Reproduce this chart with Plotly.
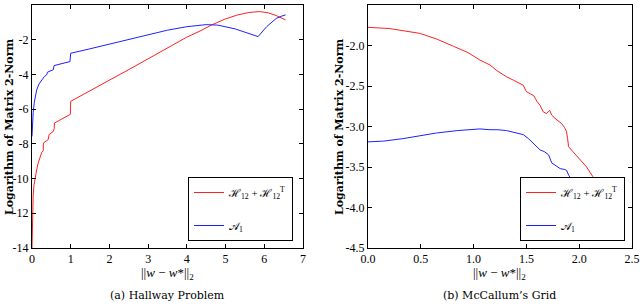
import plotly.graph_objects as go

# ---------------- data: (a) Hallway Problem ----------------
hall_red_x = [0.0, 0.005, 0.01, 0.03, 0.05, 0.08, 0.12, 0.16, 0.21, 0.25, 0.29, 0.295, 0.42, 0.43, 0.44, 0.55, 0.575, 0.58,
              0.99, 1.0, 1.5, 2.0, 2.5, 3.0, 3.5, 4.0, 4.34, 4.64, 5.0, 5.3, 5.6, 5.88, 6.1, 6.3, 6.55]
hall_red_y = [-14.0, -12.9, -12.0, -11.0, -10.4, -9.9, -9.5, -9.1, -8.7, -8.5, -8.4, -7.95, -7.75, -7.6, -7.47, -7.28, -7.1, -6.8,
              -6.3, -5.55, -4.95, -4.35, -3.72, -3.1, -2.48, -1.85, -1.5, -1.15, -0.8, -0.58, -0.43, -0.38, -0.45, -0.6, -0.86]

hall_blue_x = [0.0, 0.005, 0.01, 0.03, 0.06, 0.09, 0.12, 0.18, 0.25, 0.32, 0.38, 0.40, 0.55, 0.57, 0.98, 1.0,
               1.45, 2.0, 2.5, 3.0, 3.5, 4.0, 4.5, 4.8, 5.03, 5.25, 5.45, 5.65, 5.84, 6.06, 6.2, 6.31, 6.45, 6.55]
hall_blue_y = [-7.57, -7.0, -6.6, -6.2, -5.6, -5.2, -4.9, -4.55, -4.3, -4.12, -4.02, -3.87, -3.73, -3.49, -3.26, -2.78,
               -2.55, -2.25, -1.97, -1.7, -1.45, -1.25, -1.13, -1.16, -1.25, -1.38, -1.53, -1.68, -1.82, -1.25, -0.95, -0.77, -0.64, -0.57]

# ---------------- data: (b) McCallum's Grid ----------------
grid_red_x = [0.0, 0.2, 0.49, 0.65, 0.81, 0.95, 1.06, 1.155, 1.22, 1.31, 1.38, 1.44, 1.47, 1.50, 1.53, 1.57, 1.60, 1.63,
              1.66, 1.69, 1.72, 1.74, 1.78, 1.83, 1.86, 1.88, 1.89, 1.90, 1.94, 1.99, 2.03, 2.07, 2.13, 2.2, 2.28]
grid_red_y = [-1.776, -1.79, -1.85, -1.92, -2.01, -2.09, -2.18, -2.24, -2.31, -2.385, -2.43, -2.47, -2.49, -2.57, -2.59, -2.62, -2.69, -2.74,
              -2.82, -2.84, -2.80, -2.86, -2.91, -2.96, -3.01, -3.06, -3.15, -3.25, -3.31, -3.38, -3.44, -3.50, -3.62, -3.75, -3.9]

grid_blue_x = [0.0, 0.15, 0.33, 0.5, 0.65, 0.85, 1.06, 1.155, 1.23, 1.31, 1.4, 1.47, 1.52, 1.57, 1.63, 1.67, 1.71,
               1.74, 1.78, 1.82, 1.86, 1.88, 1.90, 1.95]
grid_blue_y = [-3.19, -3.18, -3.15, -3.11, -3.08, -3.05, -3.03, -3.04, -3.04, -3.05, -3.08, -3.10, -3.15, -3.21, -3.29, -3.31, -3.35,
               -3.45, -3.49, -3.52, -3.53, -3.54, -3.6, -3.7]

series_names = ["\u210b<sub>12</sub> + \u210b<sub>12</sub><sup>T</sup>", "\U0001D49C<sub>1</sub>"]
captions = ["(a) Hallway Problem", "(b) McCallum\u2019s Grid"]
y_title = "Logarithm of Matrix 2-Norm"
x_title = "||<i>w</i> \u2212 <i>w</i>*||<sub>2</sub>"

hall_xticks = [0, 1, 2, 3, 4, 5, 6, 7]
hall_yticks = [0, -2, -4, -6, -8, -10, -12, -14]
grid_xticks = [0.0, 0.5, 1.0, 1.5, 2.0, 2.5]
grid_yticks = [-1.5, -2.0, -2.5, -3.0, -3.5, -4.0, -4.5]

RED = "#ff2020"
BLUE = "#2020ff"
SERIF = "Liberation Serif"
DSERIF = "DejaVu Serif"

fig = go.Figure()
fig.add_trace(go.Scatter(x=hall_red_x, y=hall_red_y, mode="lines", line=dict(color=RED, width=1),
                         name=series_names[0], xaxis="x", yaxis="y", legend="legend", legendgroup="a"))
fig.add_trace(go.Scatter(x=hall_blue_x, y=hall_blue_y, mode="lines", line=dict(color=BLUE, width=1),
                         name=series_names[1], xaxis="x", yaxis="y", legend="legend", legendgroup="b"))
fig.add_trace(go.Scatter(x=grid_red_x, y=grid_red_y, mode="lines", line=dict(color=RED, width=1),
                         name=series_names[0], xaxis="x2", yaxis="y2", legend="legend2", legendgroup="c"))
fig.add_trace(go.Scatter(x=grid_blue_x, y=grid_blue_y, mode="lines", line=dict(color=BLUE, width=1),
                         name=series_names[1], xaxis="x2", yaxis="y2", legend="legend2", legendgroup="d"))

axis_common = dict(showline=True, linecolor="black", linewidth=1, mirror="ticks", ticks="inside",
                   ticklen=4, tickcolor="black", showgrid=False, zeroline=False, automargin=False,
                   tickfont=dict(family=SERIF, size=12, color="black"))

def fmt(v, dec):
    return f"{v:.{dec}f}"

W, H = 640, 304
y0, y1 = 1 - 248 / H, 1 - 5 / H
legend_common = dict(xanchor="left", yanchor="top", bgcolor="white", bordercolor="black", borderwidth=1,
                     font=dict(family=SERIF, size=11, color="black"), tracegroupgap=14, itemwidth=30)
fig.update_layout(
    width=W, height=H, margin=dict(l=0, r=0, t=0, b=0, autoexpand=False),
    paper_bgcolor="white", plot_bgcolor="white",
    xaxis=dict(domain=[32 / W, 303 / W], range=[0, 7], tickvals=hall_xticks,
               ticktext=[fmt(v, 0) for v in hall_xticks], anchor="y", **axis_common),
    yaxis=dict(domain=[y0, y1], range=[-14, 0], tickvals=hall_yticks,
               ticktext=[fmt(v, 0) for v in hall_yticks], anchor="x", **axis_common),
    xaxis2=dict(domain=[368 / W, 632 / W], range=[0, 2.5], tickvals=grid_xticks,
                ticktext=[fmt(v, 1) for v in grid_xticks], anchor="y2", **axis_common),
    yaxis2=dict(domain=[y0, y1], range=[-4.5, -1.5], tickvals=grid_yticks,
                ticktext=[fmt(v, 1) for v in grid_yticks], anchor="x2", **axis_common),
    legend=dict(x=188 / W, y=1 - 177 / H, **legend_common),
    legend2=dict(x=520 / W, y=1 - 177 / H, **legend_common),
    showlegend=True,
)

ann = []
for xc, cap, ylx in [(167 / W, captions[0], 9 / W), (499 / W, captions[1], 339 / W)]:
    ann.append(dict(x=xc, y=1 - 295 / H, xref="paper", yref="paper", text=cap, showarrow=False,
                    xanchor="center", yanchor="middle",
                    font=dict(family=DSERIF, size=11, color="black")))
    ann.append(dict(x=xc, y=1 - 273 / H, xref="paper", yref="paper", text=x_title, showarrow=False,
                    xanchor="center", yanchor="middle",
                    font=dict(family=SERIF, size=13, color="black")))
    ann.append(dict(x=ylx, y=1 - 127 / H, xref="paper", yref="paper", text="<b>" + y_title + "</b>",
                    textangle=-90, showarrow=False, xanchor="center", yanchor="middle",
                    font=dict(family=DSERIF, size=11, color="black")))
fig.update_layout(annotations=ann)

fig.write_html("out.html", config={"displayModeBar": False},
               post_script="document.body.style.margin='0';document.body.style.padding='0';")
